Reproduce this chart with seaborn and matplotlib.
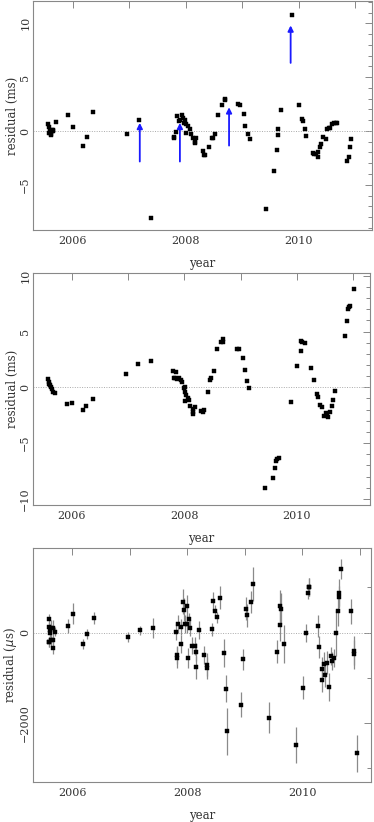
import numpy as np
import pandas as pd
import matplotlib
matplotlib.use("Agg")
import matplotlib.pyplot as plt
import seaborn as sns
from matplotlib.ticker import MultipleLocator, FixedLocator

# ---------------- data ----------------
# Panel 1: residuals (ms)
p1_year = [2005.57, 2005.58, 2005.59, 2005.60, 2005.61, 2005.62, 2005.63, 2005.64, 2005.65, 2005.66,
           2005.70, 2005.92, 2006.00, 2006.18, 2006.25, 2006.36, 2006.96, 2007.18, 2007.39,
           2007.79, 2007.80, 2007.83, 2007.85, 2007.88, 2007.90, 2007.93, 2007.95, 2007.97, 2007.99,
           2008.01, 2008.01, 2008.05, 2008.07, 2008.10, 2008.14, 2008.16, 2008.17, 2008.19,
           2008.30, 2008.33, 2008.34, 2008.42, 2008.46, 2008.48, 2008.52, 2008.58, 2008.65, 2008.69, 2008.70,
           2008.93, 2008.96, 2009.03, 2009.06, 2009.10, 2009.14,
           2009.43, 2009.57, 2009.61, 2009.63, 2009.64, 2009.69, 2009.89,
           2010.01, 2010.06, 2010.08, 2010.12, 2010.14, 2010.25, 2010.28, 2010.30, 2010.34, 2010.35,
           2010.38, 2010.40, 2010.44, 2010.48, 2010.50, 2010.54, 2010.56, 2010.59, 2010.63, 2010.66, 2010.68,
           2010.86, 2010.89, 2010.91, 2010.93]
p1_res = [0.6, 0.4, -0.15, 0.0, -0.4, -0.3, 0.1, -0.05, 0.0, 0.05,
          0.8, 1.45, 0.34, -1.39, -0.55, 1.73, -0.3, 1.05, -8.08,
          -0.68, -0.6, -0.12, 1.36, 0.92, 1.05, 1.48, 1.17, 0.74, 1.05,
          -0.15, 0.61, 0.49, 0.21, -0.31, -0.65, -1.08, -0.99, -0.68,
          -1.85, -2.2, -2.28, -1.45, -0.65, -0.65, -0.28, 1.45, 2.44, 3.0, 2.85,
          2.53, 2.4, 1.57, 0.49, -0.25, -0.77,
          -7.22, -3.73, -1.76, -0.4, 0.22, 1.94, 10.74,
          2.41, 1.11, 0.93, 0.15, -0.46, -2.07, -2.12, -2.16, -2.41, -1.99,
          -1.48, -1.2, -0.52, -0.77, 0.22, 0.25, 0.28, 0.62, 0.74, 0.77, 0.71,
          -2.81, -2.38, -1.45, -0.77]

# Panel 1 arrows (year, base, tip)
arrow_year = [2007.19, 2007.90, 2008.77, 2009.86]
arrow_base = [-2.84, -2.84, -1.36, 6.32]
arrow_tip = [0.75, 0.75, 2.2, 9.8]

# Panel 2: residuals (ms)
p2_year = [2005.58, 2005.59, 2005.60, 2005.61, 2005.63, 2005.65, 2005.67, 2005.70,
           2005.92, 2006.01, 2006.19, 2006.25, 2006.37, 2006.96, 2007.18, 2007.40,
           2007.80, 2007.86, 2007.82, 2007.84, 2007.87, 2007.90, 2007.94, 2007.95, 2007.99, 2008.01,
           2008.01, 2008.03, 2008.06, 2008.08, 2008.01, 2008.10, 2008.15, 2008.16, 2008.19, 2008.15,
           2008.30, 2008.33, 2008.35, 2008.42, 2008.46, 2008.48, 2008.52, 2008.58, 2008.65, 2008.68, 2008.69,
           2008.94, 2008.98, 2009.04, 2009.07, 2009.11, 2009.15,
           2009.43, 2009.57, 2009.61, 2009.63, 2009.64, 2009.69, 2009.89,
           2010.01, 2010.07, 2010.08, 2010.09, 2010.15, 2010.26, 2010.30, 2010.35, 2010.37, 2010.42, 2010.45,
           2010.48, 2010.51, 2010.54, 2010.56, 2010.59, 2010.62, 2010.64, 2010.68,
           2010.85, 2010.89, 2010.91, 2010.93, 2010.94, 2011.02]
p2_res = [0.72, 0.51, 0.30, 0.18, 0.03, -0.18, -0.42, -0.54,
          -1.46, -1.43, -2.06, -1.70, -1.05, 1.2, 2.12, 2.33,
          1.46, 1.40, 0.87, 0.81, 0.78, 0.81, 0.63, 0.45, -0.09, 0.0,
          -0.39, -0.69, -0.99, -1.17, -1.23, -1.70, -1.94, -2.36, -1.73, -2.24,
          -2.12, -2.24, -2.0, -0.42, 0.66, 0.87, 1.43, 3.41, 4.1, 4.3, 4.1,
          3.47, 3.47, 2.66, 1.52, 0.60, -0.09,
          -9.06, -8.1, -7.2, -6.58, -6.43, -6.31, -1.35,
          1.91, 3.29, 4.13, 4.07, 3.95, 1.77, 0.63, -0.60, -0.87, -1.58, -1.73,
          -2.6, -2.27, -2.51, -2.63, -2.18, -1.64, -1.13, -0.36,
          4.57, 5.95, 7.03, 7.18, 7.24, 8.79]

# Panel 3: residuals (us) with uncertainties
p3_year = [2005.59, 2005.60, 2005.60, 2005.61, 2005.62, 2005.63, 2005.64, 2005.66, 2005.66, 2005.67, 2005.70, 2005.60,
           2005.93, 2006.01, 2006.19, 2006.26, 2006.38, 2006.97, 2007.18, 2007.40,
           2007.81, 2007.82, 2007.83, 2007.85, 2007.89, 2007.90, 2007.93, 2007.95, 2007.96, 2008.00, 2008.00,
           2008.01, 2008.04, 2008.05, 2008.09, 2008.14, 2008.16, 2008.15, 2008.20,
           2008.30, 2008.34, 2008.35, 2008.43, 2008.46, 2008.48, 2008.52, 2008.58, 2008.65, 2008.68, 2008.70,
           2008.94, 2008.98, 2009.03, 2009.05, 2009.11, 2009.15,
           2009.43, 2009.57, 2009.61, 2009.62, 2009.64, 2009.69, 2009.89,
           2010.02, 2010.07, 2010.10, 2010.12, 2010.13, 2010.27, 2010.30, 2010.34, 2010.35, 2010.38, 2010.40,
           2010.43, 2010.47, 2010.50, 2010.52, 2010.56, 2010.59, 2010.62, 2010.64, 2010.64, 2010.67,
           2010.85, 2010.90, 2010.91, 2010.95]
p3_res = [-207, 309, 124, 0, 51, 110, -170, 110, -155, -331, 22, -207,
          146, 419, -251, -22, 315, -88, 51, 102,
          22, -501, -552, 183, -251, 117, 684, 507, 190, 587, 183,
          -567, 293, 110, -287, -287, -428, -766, 58,
          -501, -781, -706, 73, 691, 470, 338, 772, -450, -1236, -2178,
          -1589, -589, 530, 382, 676, 1081,
          -1876, -419, 161, 587, 530, -251, -2487,
          -1214, -9, 883, 1015, 1000, 146, -318, -1053, -795, -685, -942,
          -663, -1200, -523, -626, -552, -9, 470, 883, 786, 1397,
          470, -397, -479, -2670]
p3_err = [100, 110, 120, 130, 150, 180, 120, 160, 120, 130, 100, 100,
          165, 235, 120, 110, 135, 110, 100, 220,
          185, 200, 240, 200, 200, 180, 280, 250, 200, 250, 200,
          220, 150, 180, 180, 200, 200, 250, 200,
          200, 250, 250, 150, 200, 150, 120, 260, 300, 300, 515,
          275, 230, 250, 250, 250, 380,
          350, 250, 350, 350, 350, 420, 400,
          250, 200, 150, 200, 200, 250, 250, 250, 250, 250, 250,
          250, 300, 200, 200, 200, 500, 320, 300, 250, 220,
          280, 320, 320, 400]

# ---------------- plotting ----------------
sns.set_style("white")
plt.rcParams['font.family'] = ['DejaVu Serif']

W, H = 374, 822
fig = plt.figure(figsize=(W / 100, H / 100), dpi=100)

def frac(left, top, right, bottom):
    return [left / W, 1 - bottom / H, (right - left) / W, (bottom - top) / H]

ax1 = fig.add_axes(frac(33, 1, 372, 230))
ax2 = fig.add_axes(frac(33, 273, 370, 505))
ax3 = fig.add_axes(frac(33, 548, 371, 782))

df1 = pd.DataFrame({"year": p1_year, "res": p1_res})
df2 = pd.DataFrame({"year": p2_year, "res": p2_res})
df3 = pd.DataFrame({"year": p3_year, "res": p3_res, "err": p3_err})

ax3.errorbar(df3["year"], df3["res"], yerr=df3["err"], fmt="none",
             ecolor="#8a8a8a", elinewidth=0.9, capsize=0, zorder=2)

for ax, df in [(ax1, df1), (ax2, df2), (ax3, df3)]:
    ax.axhline(0, color="#aaaaaa", lw=0.7, ls=(0, (1, 1.5)), zorder=1)
    sns.scatterplot(data=df, x="year", y="res", ax=ax, marker="s", s=7,
                    color="black", edgecolor="black", linewidth=0.3, zorder=3, legend=False)

for x, b, t in zip(arrow_year, arrow_base, arrow_tip):
    ax1.annotate("", xy=(x, t), xytext=(x, b),
                 arrowprops=dict(arrowstyle="-|>", color="#1a1aff", lw=1.3,
                                 mutation_scale=8, shrinkA=0, shrinkB=0))

ax1.set_xlim(2005.3, 2011.3)
ax1.set_ylim(-9.2, 12.07)
ax2.set_xlim(2005.31, 2011.3)
ax2.set_ylim(-10.54, 10.24)
ax3.set_xlim(2005.32, 2011.2)
ax3.set_ylim(-3300, 1870)

for ax in [ax1, ax2]:
    ax.yaxis.set_major_locator(MultipleLocator(5))
    ax.yaxis.set_minor_locator(MultipleLocator(1))
ax3.yaxis.set_major_locator(MultipleLocator(2000))
ax3.yaxis.set_minor_locator(MultipleLocator(1000))

for ax in [ax1, ax2, ax3]:
    ax.xaxis.set_major_locator(FixedLocator([2006, 2008, 2010]))
    ax.xaxis.set_minor_locator(FixedLocator([2007, 2009, 2011]))
    ax.tick_params(which="both", direction="in", top=True, right=True,
                   color="#888888", width=0.7, labelsize=8, labelcolor="#333333")
    ax.tick_params(which="major", length=5)
    ax.tick_params(which="minor", length=3)
    ax.tick_params(axis="x", which="minor", length=5)
    ax.tick_params(axis="x", pad=4)
    ax.tick_params(axis="y", pad=2)
    for lab in ax.get_yticklabels():
        lab.set_rotation(90)
        lab.set_va("center")
    for sp in ax.spines.values():
        sp.set_color("#888888")
        sp.set_linewidth(0.8)
    ax.set_xlabel("year", fontsize=8.5, color="#333333", labelpad=8)
    ax.set_facecolor("white")

ax1.set_ylabel("residual (ms)", fontsize=8.5, color="#333333", labelpad=1)
ax2.set_ylabel("residual (ms)", fontsize=8.5, color="#333333", labelpad=1)
ax3.set_ylabel("residual ($\\mu$s)", fontsize=8.5, color="#333333", labelpad=1)

fig.savefig("out.png", dpi=100, facecolor="white")
